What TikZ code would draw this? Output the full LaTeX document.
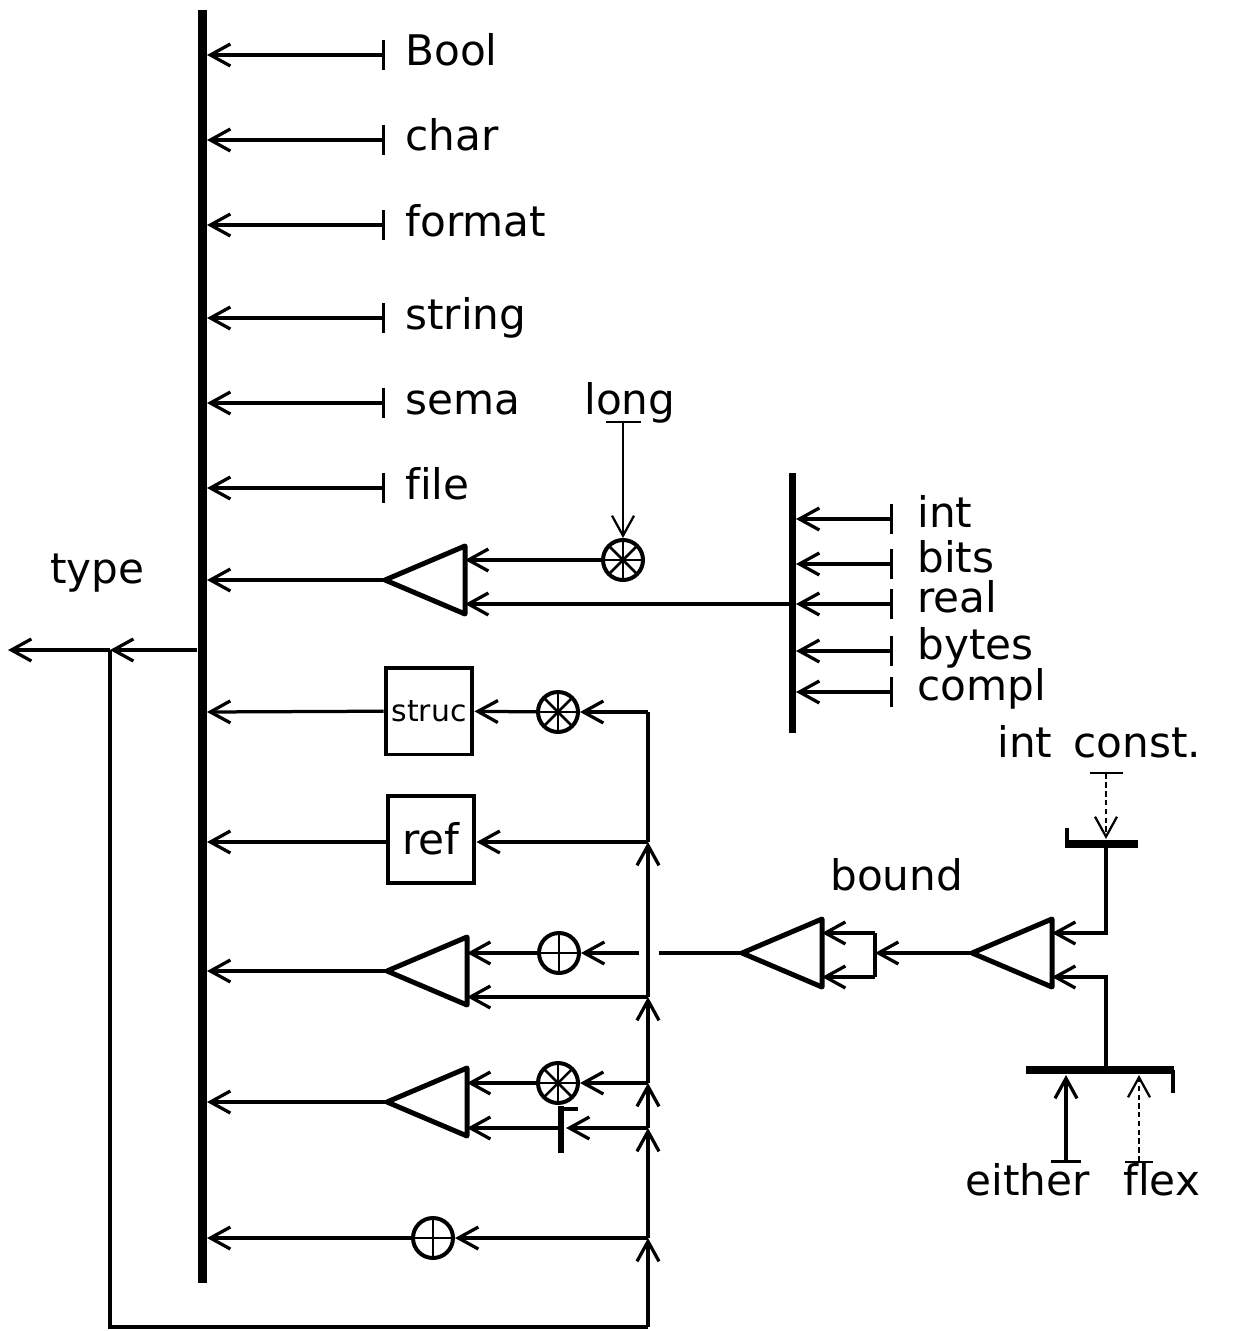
\documentclass[tikz,border=0pt]{standalone}
\usepackage{fontspec}
\usetikzlibrary{arrows.meta}
\newfontfamily\hand[Ligatures=NoCommon]{DejaVu Sans}
% amplifier: name, tip x, tip y, upper input y, lower input y
\newcommand{\amp}[5]{%
  \coordinate (#1) at (#2,#3);
  \coordinate (#1-a) at (#2+80,#4);
  \coordinate (#1-b) at (#2+80,#5);
  \draw[amp] (#1) -- ++(80,-34) -- ++(0,68) -- cycle;}

\begin{document}
\begin{tikzpicture}[x=0.02cm, y=-0.02cm,
    wire/.style={line width=0.065cm},
    fine/.style={line width=0.045cm},
    tip/.style={-{Straight Barb[length=0.4cm, width=0.44cm]}},
    feed/.style={wire, tip},
    src/.style={wire, {Bar[width=0.6cm]}-{Straight Barb[length=0.4cm, width=0.44cm]}},
    bus/.style={line width=0.18cm},
    heavy/.style={line width=0.16cm},
    amp/.style={line width=0.1cm, line join=round},
    lbl/.style={anchor=base west, inner sep=0pt, font=\hand\fontsize{24}{28}\selectfont},
    box/.style={draw, line width=0.08cm, minimum width=1.74cm, minimum height=1.74cm,
      inner sep=0pt, font=\hand\fontsize{24}{28}\selectfont},
    mul/.style={circle, draw, line width=0.08cm, minimum size=0.8cm, inner sep=0pt,
      path picture={\foreach \a in {0,45,90,135}
        \draw[line width=0.05cm] ([shift={(\a:0.4cm)}]path picture bounding box.center)
          -- ([shift={(\a+180:0.4cm)}]path picture bounding box.center);}},
    add/.style={circle, draw, line width=0.08cm, minimum size=0.8cm, inner sep=0pt,
      path picture={\foreach \a in {0,90}
        \draw[line width=0.05cm] ([shift={(\a:0.4cm)}]path picture bounding box.center)
          -- ([shift={(\a+180:0.4cm)}]path picture bounding box.center);}}]

  \useasboundingbox (0,0) rectangle (1245,1331);

  % draw main bus
  \coordinate (bus-top) at (202,10);
  \coordinate (bus-bot) at (202,1283);
  \draw[bus] (bus-top) -- (bus-bot);

  % draw plain types
  \foreach \t/\y in {Bool/55, char/140, format/225, string/318, sema/403, file/488} {
    \coordinate (\t-t) at (385,\y);
    \coordinate (bus-\t) at (207,\y);
    \node[lbl] (\t) at (405,\y+11) {\t};
    \draw[src] (\t-t) -- (bus-\t);
  }

  % draw arithmetic types
  \coordinate (sec-top) at (792,473);
  \coordinate (sec-bot) at (792,733);
  \draw[line width=0.14cm] (sec-top) -- (sec-bot);
  \foreach \t/\y in {int/519, bits/564, real/604, bytes/651, compl/692} {
    \coordinate (\t-t) at (893,\y);
    \coordinate (sec-\t) at (796,\y);
    \node[lbl] (\t) at (917,\y+8) {\t};
    \draw[src] (\t-t) -- (sec-\t);
  }

  % draw long
  \node[lbl] (long) at (584,414) {long};
  \coordinate (long-t) at (623,421);
  \node[mul] (longstar) at (623,560) {};
  \draw[fine, {Bar[width=0.7cm]}-{Straight Barb[length=0.4cm, width=0.44cm]}] (long-t) -- (longstar);
  \amp{ampLong}{385}{580}{560}{604}
  \coordinate (bus-long) at (207,580);
  \draw[feed] (longstar) -- (ampLong-a);
  \draw[feed] (sec-real) -- (ampLong-b);
  \draw[feed] (ampLong) -- (bus-long);

  % draw type output and loop
  \node[lbl] (type) at (50,583) {type};
  \coordinate (bus-out) at (197,650);
  \coordinate (join) at (110,650);
  \coordinate (typeout) at (8,650);
  \coordinate (loop-c) at (110,1327);
  \draw[feed] (bus-out) -- (join);
  \draw[feed] (join) -- (typeout);

  % draw column
  \coordinate (col-struc) at (648,712);
  \coordinate (col-ref) at (648,842);
  \coordinate (col-row) at (648,997);
  \coordinate (col-star) at (648,1083);
  \coordinate (col-skip) at (648,1128);
  \coordinate (col-plus) at (648,1238);
  \coordinate (col-bot) at (648,1327);
  \draw[wire] (col-bot) -- (loop-c) -- (join);
  \draw[wire] (col-ref) -- (col-struc);
  \draw[feed] (col-bot) -- (col-plus);
  \draw[feed] (col-plus) -- (col-skip);
  \draw[feed] (col-skip) -- (col-star);
  \draw[feed] (col-star) -- (col-row);
  \draw[feed] (col-row) -- (col-ref);

  % draw struc
  \node[box, font=\hand\fontsize{17}{20}\selectfont] (struc) at (429,711) {struc};
  \node[mul] (strucstar) at (558,712) {};
  \coordinate (bus-struc) at (207,712);
  \draw[feed] (col-struc) -- (strucstar);
  \draw[feed] (strucstar) -- (struc);
  \draw[feed] (struc) -- (bus-struc);

  % draw ref
  \node[box] (ref) at (431,839) {ref};
  \coordinate (bus-ref) at (207,842);
  \draw[feed] (col-ref) -- (ref.east |- col-ref);
  \draw[feed] (ref.west |- col-ref) -- (bus-ref);

  % draw row
  \amp{ampRow}{387}{971}{953}{997}
  \node[add] (rowplus) at (559,953) {};
  \coordinate (bus-row) at (207,971);
  \coordinate (gap-l) at (639,953);
  \coordinate (gap-r) at (659,953);
  \draw[feed] (gap-l) -- (rowplus);
  \draw[feed] (rowplus) -- (ampRow-a);
  \draw[feed] (col-row) -- (ampRow-b);
  \draw[feed] (ampRow) -- (bus-row);

  % draw proc
  \amp{ampProc}{387}{1102}{1083}{1128}
  \node[mul] (procstar) at (558,1083) {};
  \coordinate (skip) at (561,1128);
  \coordinate (skip-r) at (566,1128);
  \coordinate (bus-proc) at (207,1102);
  \draw[line width=0.12cm] (561,1106) -- (561,1153);
  \draw[wire] (559,1109) -- (578,1109);
  \draw[feed] (col-star) -- (procstar);
  \draw[feed] (procstar) -- (ampProc-a);
  \draw[feed] (col-skip) -- (skip-r);
  \draw[feed] (skip) -- (ampProc-b);
  \draw[feed] (ampProc) -- (bus-proc);

  % draw union
  \node[add] (unionplus) at (433,1238) {};
  \coordinate (bus-plus) at (207,1238);
  \draw[feed] (col-plus) -- (unionplus);
  \draw[feed] (unionplus) -- (bus-plus);

  % draw bound
  \node[lbl] (bound) at (830,890) {bound};
  \amp{ampBound}{742}{953}{933}{977}
  \coordinate (brk-t) at (875,933);
  \coordinate (brk-b) at (875,977);
  \coordinate (brk) at (875,953);
  \draw[wire] (ampBound) -- (gap-r);
  \draw[wire] (brk-t) -- (brk-b);
  \draw[feed] (brk-t) -- (ampBound-a);
  \draw[feed] (brk-b) -- (ampBound-b);

  % draw bound parts
  \amp{ampIdx}{972}{953}{933}{977}
  \draw[feed] (ampIdx) -- (brk);
  \node[lbl] (intconst) at (997,757) {int\hspace{0.5em}const.};
  \coordinate (const-t) at (1106,772);
  \coordinate (cbar-j) at (1106,844);
  \coordinate (cbar-top) at (1106,839);
  \draw[wire] (1067,828) -- (1067,844);
  \draw[heavy] (1065,844) -- (1138,844);
  \draw[fine, densely dashed, {Bar[width=0.66cm]}-{Straight Barb[length=0.4cm, width=0.44cm]}] (const-t) -- (cbar-top);
  \draw[feed] (cbar-j) |- (ampIdx-a);

  \node[lbl] (either) at (965,1195) {either};
  \node[lbl] (flex) at (1123,1195) {flex};
  \coordinate (ebar-j) at (1106,1070);
  \coordinate (either-t) at (1066,1163);
  \coordinate (either-h) at (1066,1075);
  \coordinate (flex-t) at (1139,1163);
  \coordinate (flex-h) at (1139,1075);
  \draw[heavy] (1026,1070) -- (1174,1070);
  \draw[wire] (1173,1070) -- (1173,1093);
  \draw[feed] (ebar-j) |- (ampIdx-b);
  \draw[src] (either-t) -- (either-h);
  \draw[fine, densely dashed, {Bar[width=0.55cm]}-{Straight Barb[length=0.4cm, width=0.44cm]}] (flex-t) -- (flex-h);
\end{tikzpicture}
\end{document}
